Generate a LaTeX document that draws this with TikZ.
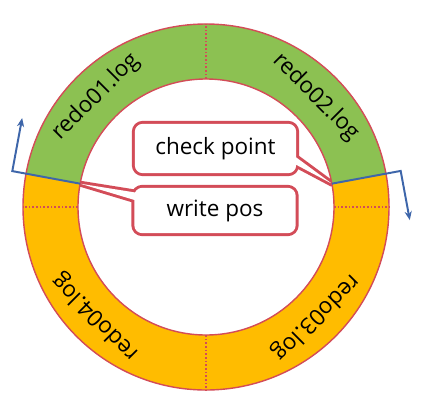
\documentclass[tikz,border=0pt]{standalone}
\usepackage{fontspec}
\setmainfont{Open Sans}
\usetikzlibrary{arrows.meta,backgrounds,calc}

\definecolor{loggreen}{RGB}{140,193,82}
\definecolor{logorange}{RGB}{255,188,0}
\definecolor{logred}{RGB}{211,76,88}
\definecolor{logblue}{RGB}{62,102,170}

\begin{document}
\begin{tikzpicture}[
  x=0.025cm, y=0.025cm,
  every node/.style={inner sep=1pt},
  ring/.style={draw=logred, line width=1pt},
  sep/.style={draw=logred, line width=1.2pt, dash pattern=on 1.2pt off 1.4pt},
  loglabel/.style={font=\fontsize{16}{19}\selectfont},
  marker/.style={draw=logblue, line width=1.4pt, -{Stealth[length=2.2mm, width=1.8mm]}},
  % callout boxes: thick outline first, white fill over its inner half
  tag/.style={minimum width=4.02cm, minimum height=1.22cm, font=\fontsize{16}{19}\selectfont},
  tagline/.style={draw=logred, line width=4.2pt, line join=round},
  tagfill/.style={fill=white}]

  \useasboundingbox (-206,-203) rectangle (221,207);

  % ring: orange all round, green from write pos to check point
  \fill[logorange, even odd rule] (0,0) circle (183) (0,0) circle (128);
  \fill[loggreen] (10.5:183) arc (10.5:169.5:183) -- (169.5:128) arc (169.5:10.5:128) -- cycle;
  \draw[ring] (0,0) circle (183) (0,0) circle (128);
  \foreach \a in {0,90,180,270}
    \draw[sep] (\a:128) -- (\a:183);

  % file names
  \foreach \a/\n in {45/02,135/01,225/04,315/03}
    \node[loglabel, rotate=\a-90] (redo\n) at (\a:155.5) {redo\n.log};

  % the two positions and their direction of travel
  \coordinate (cptip) at (10.5:128);
  \coordinate (cpend) at (10.5:198);
  \coordinate (wptip) at (169.5:128);
  \coordinate (wpend) at (169.5:197);
  \draw[marker] (cptip) -- (cpend) -- ++(-79.5:50);
  \draw[marker] (wptip) -- (wpend) -- ++(79.5:54);

  % callouts
  \node[tag] (cp) at (9.5,58.5) {check point};
  \node[tag, minimum height=1.12cm] (wp) at (9,-3.5) {write pos};

  \begin{scope}[on background layer]
    \draw[tagline, rounded corners=0.2cm] (cp.south west) rectangle (cp.north east);
    \draw[tagline] ($(cp.south east)+(-3,10)$) -- (cptip) -- ($(cp.south east)+(-3,18)$) -- cycle;
    \draw[tagline, rounded corners=0.2cm] (wp.south west) rectangle (wp.north east);
    \draw[tagline] ($(wp.north west)+(3,-5)$) -- (wptip) -- ($(wp.north west)+(3,-13)$) -- cycle;
    \fill[tagfill, rounded corners=0.2cm] (cp.south west) rectangle (cp.north east);
    \fill[tagfill] ($(cp.south east)+(-3,10)$) -- (cptip) -- ($(cp.south east)+(-3,18)$) -- cycle;
    \fill[tagfill, rounded corners=0.2cm] (wp.south west) rectangle (wp.north east);
    \fill[tagfill] ($(wp.north west)+(3,-5)$) -- (wptip) -- ($(wp.north west)+(3,-13)$) -- cycle;
  \end{scope}
\end{tikzpicture}
\end{document}
